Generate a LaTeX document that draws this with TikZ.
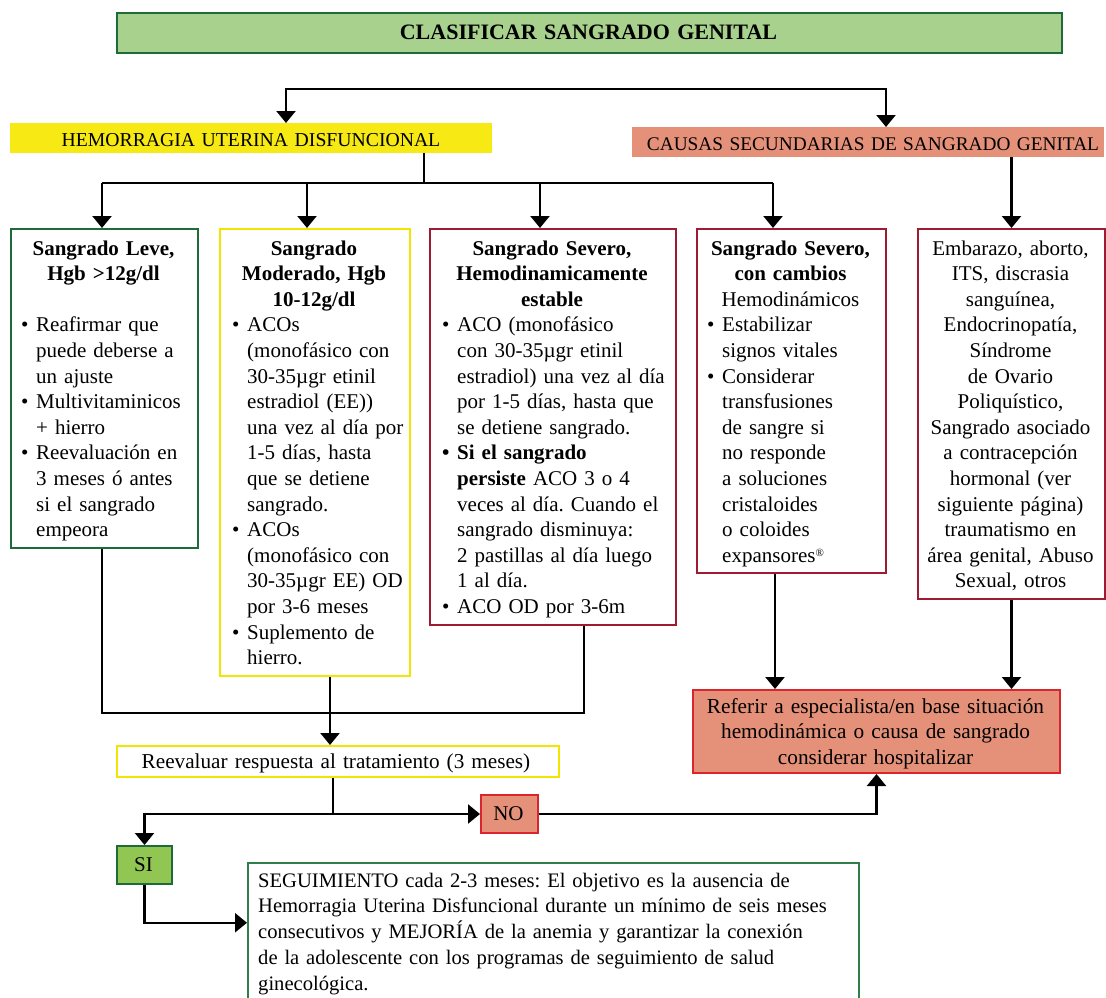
\documentclass[tikz,border=0pt]{standalone}
\usepackage{fontspec}
\setmainfont{Liberation Serif}
\usetikzlibrary{arrows.meta,calc}
\definecolor{tgreen}{HTML}{A9D18E}
\definecolor{dgreen}{HTML}{1E6B3A}
\definecolor{hyellow}{HTML}{F6E914}
\definecolor{byellow}{HTML}{F2E600}
\definecolor{salmon}{HTML}{E5917A}
\definecolor{dred}{HTML}{9E1B32}
\definecolor{bred}{HTML}{D9262E}
\definecolor{sgreen}{HTML}{92C653}
\definecolor{mgreen}{HTML}{2E8048}
\newcommand\bul{\makebox[15pt][l]{\textbullet}}
\newcommand\ind{\hspace*{15pt}}
\newcommand\regmark{{\fontsize{11}{11}\selectfont\raisebox{6pt}{®}}}
\frenchspacing
\begin{document}
\frenchspacing
\begin{tikzpicture}[x=1pt,y=-1pt,
  >={Triangle[width=19pt,length=12pt]},
  box/.style={draw=#1,line width=2pt,inner sep=0pt,anchor=north west},
  flat/.style={fill=#1,inner sep=0pt,anchor=north west},
  conn/.style={line width=2.3pt,draw=black},
  txt/.style={inner sep=0pt,anchor=base,align=center,text width=560pt,font=\fontsize{21}{25.6}\selectfont},
  ltxt/.style={inner sep=0pt,anchor=base west,align=left,text width=300pt,font=\fontsize{21}{25.6}\selectfont}
]
\useasboundingbox (0,0) rectangle (1106,998);

% header boxes
\node[box=dgreen,fill=tgreen,minimum width=945pt,minimum height=40pt] (title) at (116,12) {};
\node[txt,font=\fontsize{22}{26}\selectfont\bfseries] (titlet) at (588.5,39.5) {CLASIFICAR SANGRADO GENITAL};
\node[flat=hyellow,minimum width=482pt,minimum height=30pt] (hud) at (10,123) {};
\node[txt,font=\fontsize{19.7}{22}\selectfont] (hudt) at (251,146) {HEMORRAGIA UTERINA DISFUNCIONAL};
\node[flat=salmon,minimum width=472pt,minimum height=30pt] (cs) at (632,127) {};
\node[txt,font=\fontsize{19.3}{22}\selectfont] (cst) at (873,150) {CAUSAS SECUNDARIAS DE SANGRADO GENITAL};

% main boxes
\node[box=dgreen,minimum width=187pt,minimum height=319pt] (b1) at (10,228) {};
\node[box=byellow,minimum width=190pt,minimum height=447pt] (b2) at (219,228) {};
\node[box=dred,minimum width=246pt,minimum height=396pt] (b3) at (429,228) {};
\node[box=dred,minimum width=189pt,minimum height=344pt] (b4) at (696,228) {};
\node[box=dred,minimum width=187pt,minimum height=370pt] (b5) at (917,228) {};

\node[txt,font=\fontsize{21}{25.6}\selectfont\bfseries] (b1t) at (103.5,255) {Sangrado Leve,\\Hgb >12g/dl};
\node[ltxt] (b1b) at (21,331.8) {\bul Reafirmar que\\
\ind puede deberse a\\
\ind un ajuste\\
\bul Multivitaminicos\\
\ind + hierro\\
\bul Reevaluación en\\
\ind 3 meses ó antes\\
\ind si el sangrado\\
\ind empeora};

\node[txt,font=\fontsize{21}{25.6}\selectfont\bfseries] (b2t) at (314,255) {Sangrado\\Moderado, Hgb\\10-12g/dl};
\node[ltxt] (b2b) at (232,331.8) {\bul ACOs\\
\ind (monofásico con\\
\ind 30-35µgr etinil\\
\ind estradiol (EE))\\
\ind una vez al día por\\
\ind 1-5 días, hasta\\
\ind que se detiene\\
\ind sangrado.\\
\bul ACOs\\
\ind (monofásico con\\
\ind 30-35µgr EE) OD\\
\ind por 3-6 meses\\
\bul Suplemento de\\
\ind hierro.};

\node[txt,font=\fontsize{21}{25.6}\selectfont\bfseries] (b3t) at (552,255) {Sangrado Severo,\\Hemodinamicamente\\estable};
\node[ltxt] (b3b) at (442,331.8) {\bul ACO (monofásico\\
\ind con 30-35µgr etinil\\
\ind estradiol) una vez al día\\
\ind por 1-5 días, hasta que\\
\ind se detiene sangrado.\\
\textbf{\bul Si el sangrado}\\
\ind\textbf{persiste} ACO 3 o 4\\
\ind veces al día. Cuando el\\
\ind sangrado disminuya:\\
\ind 2 pastillas al día luego\\
\ind 1 al día.\\
\bul ACO OD por 3-6m};

\node[txt] (b4t) at (790.5,255) {\textbf{Sangrado Severo,}\\\textbf{con cambios}\\Hemodinámicos};
\node[ltxt] (b4b) at (707,331.8) {\bul Estabilizar\\
\ind signos vitales\\
\bul Considerar\\
\ind transfusiones\\
\ind de sangre si\\
\ind no responde\\
\ind a soluciones\\
\ind cristaloides\\
\ind o coloides\\
\ind expansores\regmark};

\node[txt] (b5t) at (1010.5,255) {Embarazo, aborto,\\ITS, discrasia\\sanguínea,\\Endocrinopatía,\\Síndrome\\de Ovario\\Poliquístico,\\Sangrado asociado\\a contracepción\\hormonal (ver\\siguiente página)\\traumatismo en\\área genital, Abuso\\Sexual, otros};

% lower boxes
\node[box=byellow,fill=white,minimum width=442pt,minimum height=31pt] (rv) at (116,745) {};
\node[txt,font=\fontsize{21.2}{25.6}\selectfont] (rvt) at (336,768) {Reevaluar respuesta al tratamiento (3 meses)};
\node[box=bred,fill=salmon,minimum width=367pt,minimum height=83pt] (rf) at (692,689) {};
\node[txt,font=\fontsize{21.3}{25.5}\selectfont] (rft) at (875.5,713) {Referir a especialista/en base situación\\hemodinámica o causa de sangrado\\considerar hospitalizar};
\node[box=bred,fill=salmon,minimum width=57pt,minimum height=38pt] (no) at (480,794) {};
\node[txt] (not) at (508.5,820) {NO};
\node[box=dgreen,fill=sgreen,minimum width=55pt,minimum height=38pt] (si) at (116,845) {};
\node[txt] (sit) at (143.5,871) {SI};
\node[box=mgreen,line width=1.5pt,minimum width=611pt,minimum height=140pt] (sg) at (247,862) {};
\node[ltxt,text width=640pt,font=\fontsize{20.6}{25.8}\selectfont] (sgt) at (258,887) {SEGUIMIENTO cada 2-3 meses: El objetivo es la ausencia de\\
Hemorragia Uterina Disfuncional durante un mínimo de seis meses\\
consecutivos y MEJORÍA de la anemia y garantizar la conexión\\
de la adolescente con los programas de seguimiento de salud\\
ginecológica.};

% connectors
\coordinate (s1) at (286,89);
\coordinate (s2) at (886,89);
\draw[conn,<->] (s1 |- hud.north) -- (s1) -- (s2) -- (s2 |- cs.north);

\coordinate (j0) at (424,183);
\coordinate (a1) at (102,183);
\coordinate (a2) at (307,183);
\coordinate (a3) at (540,183);
\coordinate (a4) at (773,183);
\draw[conn] (j0 |- hud.south) -- (j0);
\draw[conn] (a1) -- (a4);
\draw[conn,->] (a1) -- (a1 |- b1.north);
\draw[conn,->] (a2) -- (a2 |- b2.north);
\draw[conn,->] (a3) -- (a3 |- b3.north);
\draw[conn,->] (a4) -- (a4 |- b4.north);
\draw[conn,->] (b5.north |- cs.south) -- (b5.north);

\coordinate (m1) at (102,713);
\coordinate (m2) at (330,713);
\coordinate (m3) at (584,713);
\draw[conn] (m1 |- b1.south) -- (m1) -- (m3) -- (m3 |- b3.south);
\draw[conn,->] (m2 |- b2.south) -- (m2 |- rv.north);
\coordinate (n1) at (333,813);
\draw[conn] (n1 |- rv.south) -- (n1);
\draw[conn,<->] (si.north) |- (no.west);
\draw[conn,->] (no.east) -| (rf.south);
\coordinate (r1) at (775,600);
\draw[conn,->] (r1 |- b4.south) -- (r1 |- rf.north);
\draw[conn,->] (b5.south) -- (b5.south |- rf.north);
\draw[conn,->] (si.south) |- ([yshift=10pt]sg.west);
\end{tikzpicture}
\end{document}
